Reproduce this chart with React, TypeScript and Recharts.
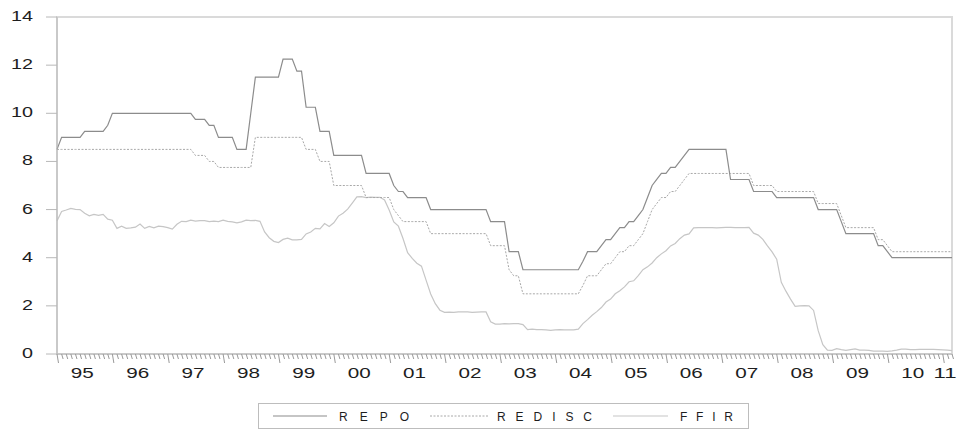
import { LineChart, Line, XAxis, YAxis, ReferenceArea } from 'recharts';

// monthly, 1995M01 .. 2011M03
const years = ['95', '96', '97', '98', '99', '00', '01', '02', '03', '04', '05', '06', '07', '08', '09', '10', '11'];

const REPO = [
  8.5, 9.0, 9.0, 9.0, 9.0, 9.0, 9.25, 9.25, 9.25, 9.25, 9.25, 9.5,
  10, 10, 10, 10, 10, 10, 10, 10, 10, 10, 10, 10,
  10, 10, 10, 10, 10, 10, 9.75, 9.75, 9.75, 9.5, 9.5, 9.0,
  9.0, 9.0, 9.0, 8.5, 8.5, 8.5, 10.0, 11.5, 11.5, 11.5, 11.5, 11.5,
  11.5, 12.25, 12.25, 12.25, 11.75, 11.75, 10.25, 10.25, 10.25, 9.25, 9.25, 9.25,
  8.25, 8.25, 8.25, 8.25, 8.25, 8.25, 8.25, 7.5, 7.5, 7.5, 7.5, 7.5,
  7.5, 7.0, 6.75, 6.75, 6.5, 6.5, 6.5, 6.5, 6.5, 6.0, 6.0, 6.0,
  6.0, 6.0, 6.0, 6.0, 6.0, 6.0, 6.0, 6.0, 6.0, 6.0, 5.5, 5.5,
  5.5, 5.5, 4.25, 4.25, 4.25, 3.5, 3.5, 3.5, 3.5, 3.5, 3.5, 3.5,
  3.5, 3.5, 3.5, 3.5, 3.5, 3.5, 3.85, 4.25, 4.25, 4.25, 4.5, 4.75,
  4.75, 5.0, 5.25, 5.25, 5.5, 5.5, 5.75, 6.0, 6.5, 7.0, 7.25, 7.5,
  7.5, 7.75, 7.75, 8.0, 8.25, 8.5, 8.5, 8.5, 8.5, 8.5, 8.5, 8.5,
  8.5, 8.5, 7.25, 7.25, 7.25, 7.25, 7.25, 6.75, 6.75, 6.75, 6.75, 6.75,
  6.5, 6.5, 6.5, 6.5, 6.5, 6.5, 6.5, 6.5, 6.5, 6.0, 6.0, 6.0,
  6.0, 6.0, 5.5, 5.0, 5.0, 5.0, 5.0, 5.0, 5.0, 5.0, 4.5, 4.5,
  4.25, 4.0, 4.0, 4.0, 4.0, 4.0, 4.0, 4.0, 4.0, 4.0, 4.0, 4.0,
  4.0, 4.0, 4.0,
];

const REDISC = [
  8.5, 8.5, 8.5, 8.5, 8.5, 8.5, 8.5, 8.5, 8.5, 8.5, 8.5, 8.5,
  8.5, 8.5, 8.5, 8.5, 8.5, 8.5, 8.5, 8.5, 8.5, 8.5, 8.5, 8.5,
  8.5, 8.5, 8.5, 8.5, 8.5, 8.5, 8.25, 8.25, 8.25, 8.0, 8.0, 7.75,
  7.75, 7.75, 7.75, 7.75, 7.75, 7.75, 7.75, 9.0, 9.0, 9.0, 9.0, 9.0,
  9.0, 9.0, 9.0, 9.0, 9.0, 9.0, 8.5, 8.5, 8.5, 8.0, 8.0, 8.0,
  7.0, 7.0, 7.0, 7.0, 7.0, 7.0, 7.0, 6.5, 6.5, 6.5, 6.5, 6.5,
  6.5, 6.0, 5.75, 5.5, 5.5, 5.5, 5.5, 5.5, 5.5, 5.0, 5.0, 5.0,
  5.0, 5.0, 5.0, 5.0, 5.0, 5.0, 5.0, 5.0, 5.0, 5.0, 4.5, 4.5,
  4.5, 4.5, 3.5, 3.25, 3.25, 2.5, 2.5, 2.5, 2.5, 2.5, 2.5, 2.5,
  2.5, 2.5, 2.5, 2.5, 2.5, 2.5, 2.85, 3.25, 3.25, 3.25, 3.5, 3.75,
  3.75, 4.0, 4.25, 4.25, 4.5, 4.5, 4.75, 5.0, 5.5, 6.0, 6.25, 6.5,
  6.5, 6.75, 6.75, 7.0, 7.25, 7.5, 7.5, 7.5, 7.5, 7.5, 7.5, 7.5,
  7.5, 7.5, 7.5, 7.5, 7.5, 7.5, 7.5, 7.0, 7.0, 7.0, 7.0, 7.0,
  6.75, 6.75, 6.75, 6.75, 6.75, 6.75, 6.75, 6.75, 6.75, 6.25, 6.25, 6.25,
  6.25, 6.25, 5.75, 5.25, 5.25, 5.25, 5.25, 5.25, 5.25, 5.25, 4.75, 4.75,
  4.5, 4.25, 4.25, 4.25, 4.25, 4.25, 4.25, 4.25, 4.25, 4.25, 4.25, 4.25,
  4.25, 4.25, 4.25,
];

const FFIR = [
  5.53, 5.92, 5.98, 6.05, 6.01, 6.0, 5.85, 5.74, 5.8, 5.76, 5.8, 5.6,
  5.56, 5.22, 5.31, 5.22, 5.24, 5.27, 5.4, 5.22, 5.3, 5.24, 5.31, 5.29,
  5.25, 5.19, 5.39, 5.51, 5.5, 5.56, 5.52, 5.54, 5.54, 5.5, 5.52, 5.5,
  5.56, 5.51, 5.49, 5.45, 5.49, 5.56, 5.54, 5.55, 5.51, 5.07, 4.83, 4.68,
  4.63, 4.76, 4.81, 4.74, 4.74, 4.76, 4.99, 5.07, 5.22, 5.2, 5.42, 5.3,
  5.45, 5.73, 5.85, 6.02, 6.27, 6.53, 6.54, 6.5, 6.52, 6.51, 6.51, 6.4,
  5.98, 5.49, 5.31, 4.8, 4.21, 3.97, 3.77, 3.65, 3.07, 2.49, 2.09, 1.82,
  1.73, 1.74, 1.73, 1.75, 1.75, 1.75, 1.73, 1.74, 1.75, 1.75, 1.34, 1.24,
  1.24, 1.26, 1.25, 1.26, 1.26, 1.22, 1.01, 1.03, 1.01, 1.01, 1.0, 0.98,
  1.0, 1.01, 1.0, 1.0, 1.0, 1.03, 1.26, 1.43, 1.61, 1.76, 1.93, 2.16,
  2.28, 2.5, 2.63, 2.79, 3.0, 3.04, 3.26, 3.5, 3.62, 3.78, 4.0, 4.16,
  4.29, 4.49, 4.59, 4.79, 4.94, 4.99, 5.24, 5.25, 5.25, 5.25, 5.25, 5.24,
  5.25, 5.26, 5.26, 5.25, 5.25, 5.25, 5.26, 5.02, 4.94, 4.76, 4.49, 4.24,
  3.94, 2.98, 2.61, 2.28, 1.98, 2.0, 2.01, 2.0, 1.81, 0.97, 0.39, 0.16,
  0.15, 0.22, 0.18, 0.15, 0.18, 0.21, 0.16, 0.16, 0.15, 0.12, 0.12, 0.12,
  0.11, 0.13, 0.16, 0.2, 0.2, 0.18, 0.18, 0.19, 0.19, 0.19, 0.19, 0.18,
  0.17, 0.16, 0.14,
];

const yTicks = [0, 2, 4, 6, 8, 10, 12, 14];

const data = REPO.map((v, i) => ({ t: i, repo: v, redisc: REDISC[i], ffir: FFIR[i] }));
const last = REPO.length - 1;

// integer ticks = month marks, fractional ticks = year labels
const labelTicks = years.map((_, k) => (k === years.length - 1 ? k * 12 + 0.5 : k * 12 + 5.5));
const xTicks = [...data.map(d => d.t), ...labelTicks].sort((a, b) => a - b);

const FONT = '"Liberation Sans", Arial, sans-serif';
const AXIS = '#b8b8b8';

const XTick = (props: any) => {
  const { x, y, payload } = props;
  const v = payload.value;
  if (Number.isInteger(v)) {
    const major = v % 12 === 0;
    return <line x1={x} y1={y} x2={x + 1.5} y2={y + (major ? 9 : 5)} stroke="#9a9a9a" strokeWidth={1} />;
  }
  const k = Math.floor(v / 12);
  return (
    <text x={x} y={y + 24} textAnchor="middle" fontSize={14} fontFamily={FONT} fill="#1e1e1e"
      textLength={23} lengthAdjust="spacingAndGlyphs">
      {years[k]}
    </text>
  );
};

const YTick = (props: any) => {
  const { x, y, payload } = props;
  const s = String(payload.value);
  return (
    <text x={x} y={y + 4} textAnchor="end" fontSize={14} fontFamily={FONT} fill="#1e1e1e"
      textLength={s.length * 11} lengthAdjust="spacingAndGlyphs">
      {s}
    </text>
  );
};

const ChartLegend = () => (
  <svg width={958} height={430} style={{ position: 'absolute', left: 0, top: 0, pointerEvents: 'none' }}>
    <rect x={258.5} y={403.5} width={490} height={25} fill="none" stroke="#bdbdbd" />
    <g fontFamily={FONT} fontSize={12} fill="#1e1e1e">
      <line x1={273} y1={416} x2={327} y2={416} stroke="#8c8c8c" strokeWidth={1.2} />
      <text x={339} y={420.5} textLength={70} lengthAdjust="spacing">REPO</text>
      <line x1={430} y1={416} x2={488} y2={416} stroke="#a8a8a8" strokeWidth={1} strokeDasharray="2 1.5" />
      <text x={497} y={420.5} textLength={95} lengthAdjust="spacing">REDISC</text>
      <line x1={613} y1={416} x2={668} y2={416} stroke="#c6c6c6" strokeWidth={1.2} />
      <text x={680} y={420.5} textLength={53} lengthAdjust="spacing">FFIR</text>
    </g>
  </svg>
);

export default function App() {
  return (
    <div style={{ position: 'absolute', left: 0, top: 0, width: 958, height: 430, background: '#fff' }}>
      <LineChart width={958} height={430} data={data} margin={{ top: 17, right: 6, left: 0, bottom: 46 }}>
        <ReferenceArea x1={0} x2={last} y1={0} y2={14} fill="none" stroke="#dadada" strokeWidth={2} />
        <XAxis
          dataKey="t"
          type="number"
          domain={[0, last]}
          ticks={xTicks}
          interval={0}
          tick={<XTick />}
          tickLine={false}
          tickSize={0}
          tickMargin={0}
          height={30}
          stroke={AXIS}
        />
        <YAxis
          type="number"
          domain={[0, 14]}
          ticks={yTicks}
          interval={0}
          width={57}
          tickSize={11}
          tickMargin={13}
          tick={<YTick />}
          stroke={AXIS}
          tickLine={{ stroke: AXIS }}
        />
        <Line type="linear" dataKey="ffir" stroke="#c6c6c6" strokeWidth={1.2} dot={false} isAnimationActive={false} />
        <Line type="linear" dataKey="redisc" stroke="#a8a8a8" strokeWidth={1} strokeDasharray="2 1.5" dot={false} isAnimationActive={false} />
        <Line type="linear" dataKey="repo" stroke="#8c8c8c" strokeWidth={1.2} dot={false} isAnimationActive={false} />
      </LineChart>
      <ChartLegend />
    </div>
  );
}
